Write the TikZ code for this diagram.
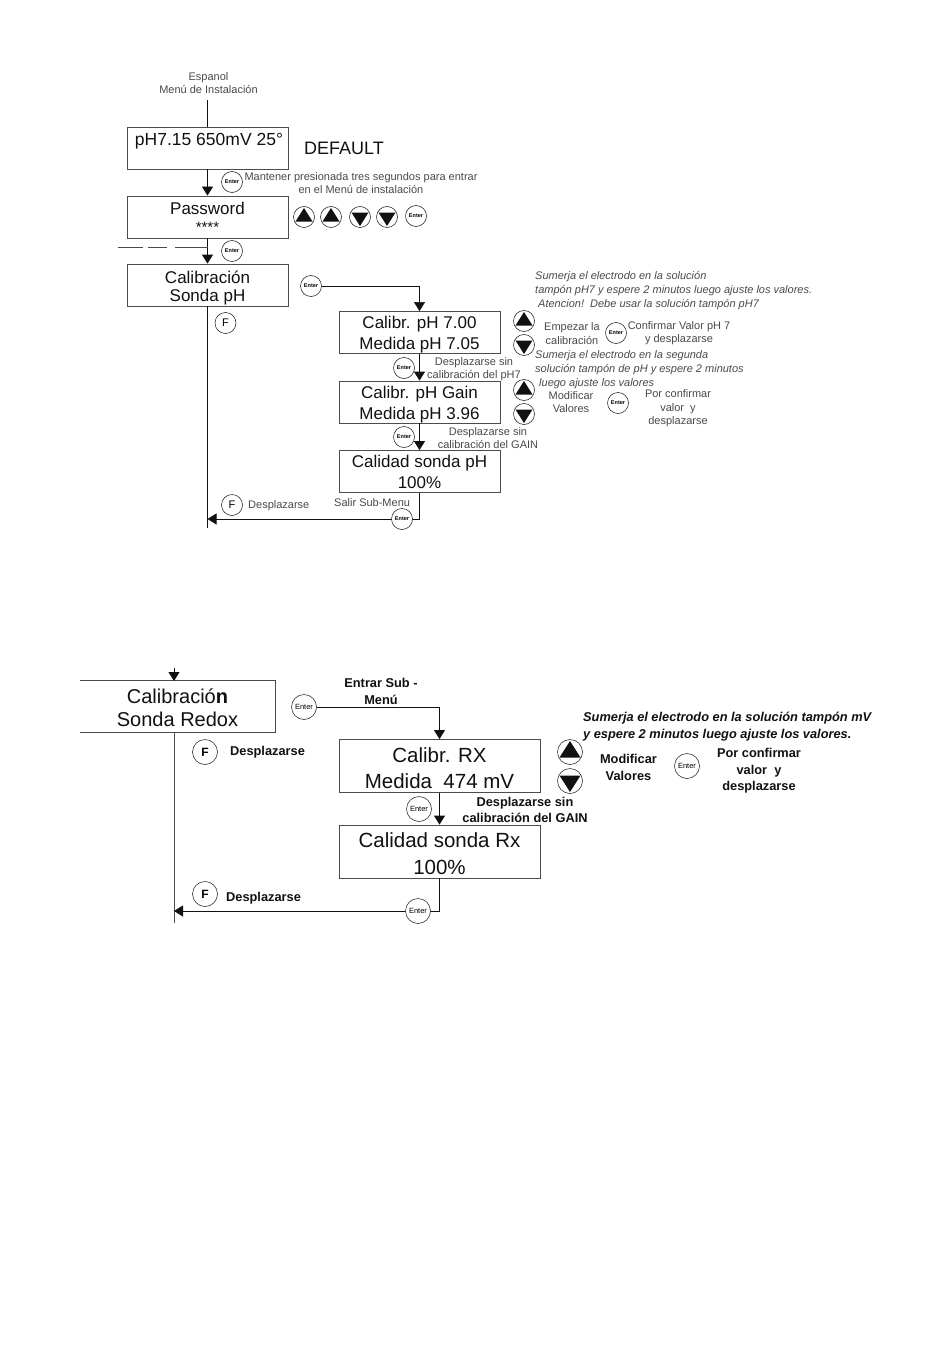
\documentclass[tikz,border=0pt]{standalone}
\usepackage{fontspec}
\setmainfont{Liberation Sans}
\usepackage{xcolor}
\usetikzlibrary{arrows.meta,positioning,calc}
\definecolor{ink}{HTML}{111111}
\definecolor{soft}{HTML}{4A4A4A}
\tikzset{
  menu/.style ={draw=ink!75, line width=0.8pt, minimum height=42pt, inner sep=0pt,
                align=center, font=\fontsize{17}{21}\selectfont, text=ink},
  menua/.style={menu, minimum width=161pt},
  menub/.style={menu, minimum width=201pt, minimum height=53pt,
                font=\fontsize{20.5}{26.5}\selectfont},
  link/.style ={draw=ink, line width=0.8pt},
  dep/.style  ={link, -{Triangle[length=9pt,width=11pt]}},
  key/.style  ={circle, draw=ink, line width=0.5pt, fill=white, inner sep=0pt,
                minimum size=21pt},
  ent/.style  ={key, font=\bfseries\fontsize{5.5}{6}\selectfont},
  entb/.style ={key, minimum size=25pt, font=\fontsize{7.5}{8}\selectfont},
  fkey/.style ={key, font=\fontsize{11}{12}\selectfont},
  fkeyb/.style={key, minimum size=25pt, font=\bfseries\fontsize{12}{13}\selectfont},
  up/.style   ={key, path picture={\fill[ink, shift={(path picture bounding box.center)}]
                (0,-9) -- (-8.5,4.5) -- (8.5,4.5) -- cycle;}},
  down/.style ={key, path picture={\fill[ink, shift={(path picture bounding box.center)}]
                (0,9) -- (-8.5,-4.5) -- (8.5,-4.5) -- cycle;}},
  upb/.style  ={key, minimum size=25pt, path picture={\fill[ink, shift={(path picture bounding box.center)}]
                (0,-11) -- (-10.5,5.5) -- (10.5,5.5) -- cycle;}},
  downb/.style={key, minimum size=25pt, path picture={\fill[ink, shift={(path picture bounding box.center)}]
                (0,11) -- (-10.5,-5.5) -- (10.5,-5.5) -- cycle;}},
  small/.style={align=center, inner sep=0pt, text=soft, font=\fontsize{11}{13.5}\selectfont},
  note/.style ={small, align=left, font=\itshape\fontsize{11}{14}\selectfont, anchor=west},
  smallb/.style={align=center, inner sep=0pt, text=ink, font=\bfseries\fontsize{12.8}{16.5}\selectfont},
  noteb/.style={smallb, align=left, font=\bfseries\itshape\fontsize{12.8}{17}\selectfont, anchor=west},
}
\newcommand{\lift}[1]{\rule{0pt}{#1pt}}

\begin{document}
\begin{tikzpicture}[x=1pt,y=-1pt]
  \useasboundingbox[fill=white] (0,0) rectangle (950,1359);

  % ---------------------------------------------------------------- pH menu
  \node[small] (title) at (208.5,83) {Espanol\\Menú de Instalación};
  \coordinate (start) at (207.5,100);
  \node[menua, text height=14pt, text depth=18pt] (def) at (207.5,148) {\hspace{3pt}\fontsize{17.5}{20}\selectfont pH7.15 650mV 25°};
  \node[menua] (pass) at (207.5,217) {Password\\[-3pt]\fontsize{15}{15}\selectfont ****};
  \node[menua] (calph) at (207.5,285) {\lift{19}Calibración\\[-3pt]Sonda pH};
  \node[font=\fontsize{18}{20}\selectfont, text=ink, inner sep=0pt] (deflab) at (344,148) {DEFAULT};
  \node[small] (hold) at (361,183) {Mantener presionada tres segundos para entrar\\en el Menú de instalación};

  \node[menua] (c7) at (419.5,332.5) {\lift{17}Calibr. pH 7.00\\Medida pH 7.05};
  \node[menua] (cg) at (419.5,402) {\lift{17}Calibr. pH Gain\\Medida pH 3.96};
  \node[menua] (qph) at (419.5,471.5) {Calidad sonda pH\\100\%};

  \coordinate (dashl) at (118,247);
  \coordinate (dashr) at (207.5,247);
  \coordinate (endph) at (207.5,528);
  \coordinate (retph) at (207.5,519);
  \draw[link] (start) -- (def.north);
  \draw[dep] (def.south) -- (pass.north);
  \draw[dep] (pass.south) -- (calph.north);
  \draw[draw=soft, line width=0.5pt, dash pattern=on 25pt off 5pt on 19pt off 8pt on 40pt off 0pt] (dashl) -- (dashr);
  \draw[link] (calph.south) -- (endph);
  \draw[dep] (c7.south) -- (cg.north);
  \draw[dep] (cg.south) -- (qph.north);
  \draw[dep] (qph.south) |- (retph);

  \node[ent] (e1) at (232,182) {Enter};
  \node[ent] (e2) at (232,251) {Enter};
  \node[ent] (e3) at (311,286) {Enter};
  \node[ent] (e4) at (404,368) {Enter};
  \node[ent] (e5) at (404,437) {Enter};
  \node[ent] (e6) at (402,519) {Enter};
  \draw[dep, line width=0.6pt] (e3.east) -| (c7.north);
  \node[fkey] (f1) at (225.5,323) {F};
  \node[fkey] (f2) at (232,505) {F};

  \node[up]   (p1) at (304,217) {};
  \node[up]   (p2) at (331,217) {};
  \node[down] (p3) at (360,217) {};
  \node[down] (p4) at (387,217) {};
  \node[ent]  (p5) at (416,216) {Enter};
  \node[up]   (k1) at (524,321) {};
  \node[down] (k2) at (524,345) {};
  \node[up]   (k3) at (524,390) {};
  \node[down] (k4) at (524,414) {};

  \node[small] (s1) at (474,369) {Desplazarse sin\\calibración del pH7};
  \node[small] (s2) at (488,438) {Desplazarse sin\\calibración del GAIN};
  \node[small, anchor=west] (s3) at (248,505.5) {Desplazarse};
  \node[small, anchor=west] (s4) at (334,503) {Salir Sub-Menu};
  \node[note] (n1) at (535,290.5) {Sumerja el electrodo en la solución\\tampón pH7 y espere 2 minutos luego ajuste los valores.\\\hspace{3pt}Atencion!\ \ Debe usar la solución tampón pH7};
  \node[note] (n2) at (535,370) {Sumerja el electrodo en la segunda\\solución tampón de pH y espere 2 minutos\\\hspace{4pt}luego ajuste los valores};
  \node[small] (m1) at (572,333.5) {Empezar la\\calibración};
  \node[small] (m2) at (679,333) {Confirmar Valor pH 7\\y desplazarse};
  \node[small] (m3) at (571,402) {Modificar\\Valores};
  \node[small] (m4) at (678,408.5) {Por confirmar\\valor\ \ y\\desplazarse};
  \node[ent]  (k5) at (616,333) {Enter};
  \node[ent]  (k6) at (618,403) {Enter};

  % ---------------------------------------------------------------- redox menu
  \node[minimum width=195pt, minimum height=51pt, inner sep=0pt, align=center, text=ink,
        font=\fontsize{20}{23}\selectfont] (calrx) at (177.5,706.5) {\lift{18}Calibració\textbf{n}\\Sonda Redox};
  \draw[link, draw=soft] (calrx.north west) -- (calrx.north east) -- (calrx.south east) -- (calrx.south west);
  \node[menub] (crx) at (439.5,766) {\lift{19}Calibr. RX\\Medida\ \ 474 mV};
  \node[menub] (qrx) at (439.5,851.5) {\lift{19}Calidad sonda Rx\\100\%};

  \coordinate (toprx) at (174,668);
  \coordinate (inrx) at (174,681);
  \coordinate (outrx) at (174,732);
  \coordinate (endrx) at (174,923);
  \coordinate (retrx) at (174,911);
  \draw[dep] (toprx) -- (inrx);
  \draw[link, draw=soft] (outrx) -- (endrx);
  \draw[dep] (crx.south) -- (qrx.north);
  \draw[dep] (qrx.south) |- (retrx);

  \node[entb] (r1) at (304,707) {Enter};
  \node[entb] (r2) at (419,809) {Enter};
  \node[entb] (r3) at (418,911) {Enter};
  \draw[dep] (r1.east) -| (crx.north);
  \node[fkeyb] (g1) at (205,752) {F};
  \node[fkeyb] (g2) at (205,894) {F};
  \node[upb]   (u1) at (570,752) {};
  \node[downb] (u2) at (570,781) {};
  \node[entb]  (u3) at (687,766) {Enter};

  \node[smallb] (t1) at (381,691.5) {Entrar Sub -\\Menú};
  \node[smallb, anchor=west] (t2) at (230,752) {Desplazarse};
  \node[smallb, anchor=west] (t3) at (226,898.5) {Desplazarse};
  \node[smallb] (t4) at (525,810) {Desplazarse sin\\calibración del GAIN};
  \node[noteb] (t5) at (583,726.5) {Sumerja el electrodo en la solución tampón mV\\y espere 2 minutos luego ajuste los valores.};
  \node[smallb] (t6) at (628.5,767.5) {Modificar\\Valores};
  \node[smallb] (t7) at (759,771) {Por confirmar\\valor\ \ y\\desplazarse};
\end{tikzpicture}
\end{document}
